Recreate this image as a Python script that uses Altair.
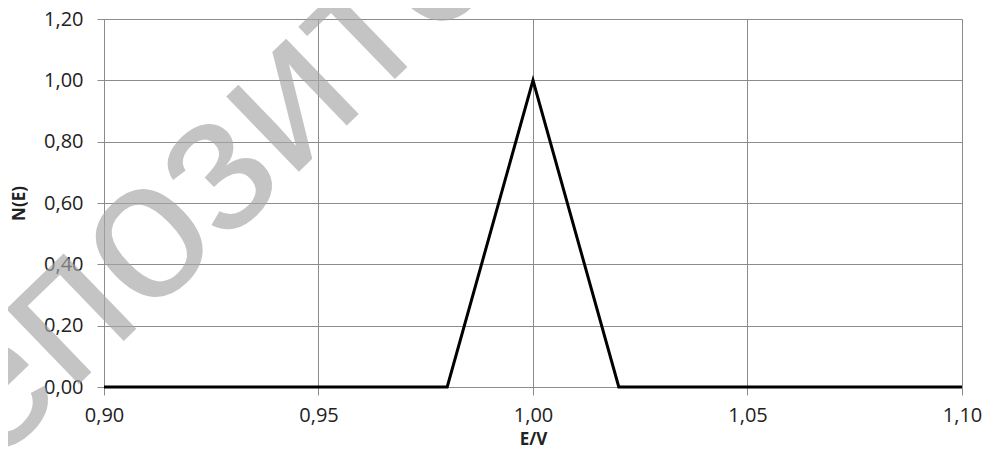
import altair as alt
import pandas as pd

# Data
energy = [0.90, 0.98, 1.00, 1.02, 1.10]
density = [0.0, 0.0, 1.0, 0.0, 0.0]
x_ticks = [0.90, 0.95, 1.00, 1.05, 1.10]
y_ticks = [0.0, 0.2, 0.4, 0.6, 0.8, 1.0, 1.2]
watermark_text = ["Репозиторий БГУИР"]

df = pd.DataFrame({"E": energy, "N": density})
wm = pd.DataFrame({"t": watermark_text})

FONT = "Open Sans"
GRID = "#8c8c8c"
label_expr = "replace(format(datum.value, '.2f'), '.', ',')"

x_enc = alt.X(
    "E:Q",
    title="E/V",
    scale=alt.Scale(domain=[0.9, 1.1], nice=False, zero=False),
    axis=alt.Axis(
        values=x_ticks,
        labelExpr=label_expr,
        labelFlush=False,
        labelOverlap=False,
        labelAlign="center",
        labelBaseline="top",
        grid=True,
        gridColor=GRID,
        gridWidth=1,
        domain=False,
        tickColor=GRID,
        tickSize=8,
        labelPadding=10,
        labelFont=FONT,
        labelFontSize=20,
        labelColor="#222222",
        titleFont=FONT,
        titleFontSize=17,
        titleFontWeight="bold",
        titleColor="#222222",
        titlePadding=6,
    ),
)
y_enc = alt.Y(
    "N:Q",
    title="N(E)",
    scale=alt.Scale(domain=[0, 1.2], nice=False),
    axis=alt.Axis(
        values=y_ticks,
        labelExpr=label_expr,
        labelFlush=False,
        labelOverlap=False,
        grid=True,
        gridColor=GRID,
        gridWidth=1,
        domainColor=GRID,
        tickColor=GRID,
        tickSize=7,
        labelPadding=14,
        labelFont=FONT,
        labelFontSize=20,
        labelColor="#222222",
        titleFont=FONT,
        titleFontSize=17,
        titleFontWeight="bold",
        titleColor="#222222",
        titlePadding=15,
    ),
)

line = alt.Chart(df).mark_line(color="black", strokeWidth=3, strokeJoin="miter").encode(
    x=x_enc, y=y_enc
)

watermark = alt.Chart(wm).mark_text(
    font="Liberation Sans",
    fontSize=198,
    angle=316,
    align="left",
    baseline="alphabetic",
    color="#a6a6a6",
    opacity=0.66,
).encode(text="t:N", x=alt.value(-203), y=alt.value(537))

chart = (
    alt.layer(line, watermark)
    .properties(
        width=858,
        height=368,
        autosize=alt.AutoSizeParams(type="none"),
        padding={"left": 96, "top": 11, "right": 20, "bottom": 62},
    )
    .configure_view(stroke=None)
)

chart.save("out.html", embed_options={"renderer": "svg", "actions": False})
